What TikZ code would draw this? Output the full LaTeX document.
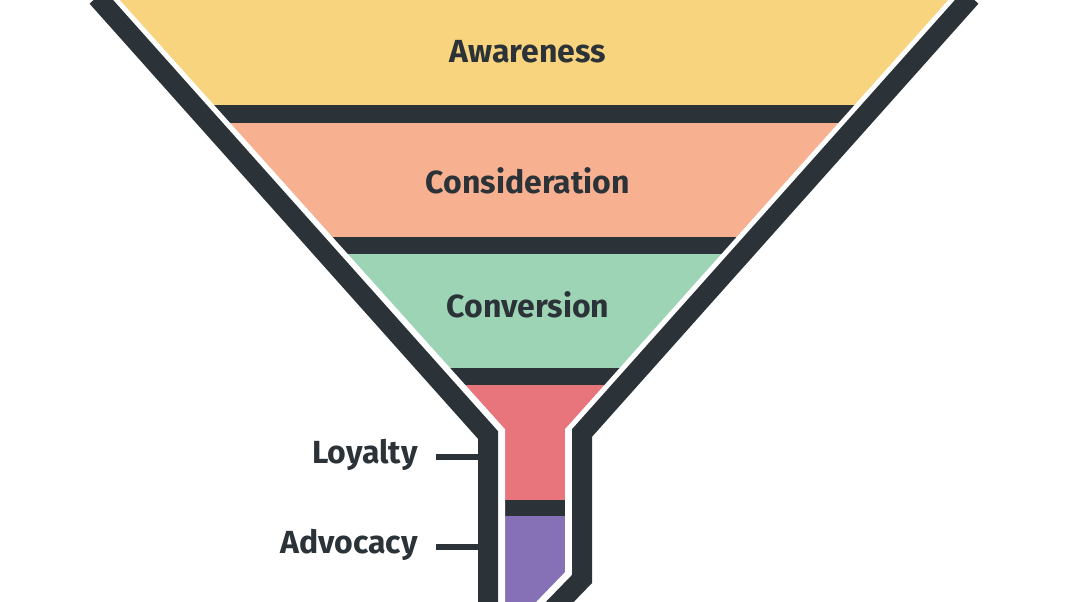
\documentclass[tikz,border=0pt]{standalone}
\usepackage{fontspec}
\setmainfont{Fira Sans}
\usepackage{xcolor}
\usetikzlibrary{positioning}
\definecolor{funnelDark}{HTML}{2B3338}
\definecolor{stageYellow}{HTML}{F9D47E}
\definecolor{stageSalmon}{HTML}{F7B191}
\definecolor{stageGreen}{HTML}{9ED4B6}
\definecolor{stageRed}{HTML}{E8747C}
\definecolor{stagePurple}{HTML}{8670B6}
\begin{document}
\begin{tikzpicture}[x=0.75pt, y=-0.75pt,
		stage/.style={font=\bfseries\fontsize{24}{28}\selectfont, text=funnelDark},
		side/.style={font=\bfseries\fontsize{24}{28}\selectfont, text=funnelDark, anchor=east, inner sep=0pt},
		tick/.style={draw=funnelDark, line width=3.8pt}]
			\useasboundingbox (0,0) rectangle (1068,601);
			% outer wall
			\draw[funnelDark, line width=15pt, line join=miter]
				(97,-3) -- (488,435) -- (488,610);
			\draw[funnelDark, line width=15pt, line join=miter]
				(971,-3) -- (582,433) -- (582,579) -- (550,612);
			% stages
			\begin{scope}
				\clip (117,0) -- (503,430) -- (503,605) -- (536,605) -- (567,573) -- (567,430) -- (951,0) -- cycle;
				\fill[funnelDark] (0,0) rectangle (1068,601);
				\foreach \top/\bot/\col in {0/105/stageYellow, 123/237/stageSalmon, 254/368/stageGreen, 385/500/stageRed, 516/605/stagePurple}
				{
					\fill[\col] (0,\top) rectangle (1068,\bot);
				}
			\end{scope}
			\draw[white, line width=3pt, line join=miter]
				(117,0) -- (503,430) -- (503,605);
			\draw[white, line width=3pt, line join=miter]
				(951,0) -- (567,430) -- (567,573) -- (536,605);
			% labels
			\node[stage] (awareness) at (528,52) {Awareness};
			\node[stage] (consideration) at (528,181) {Consideration};
			\node[stage] (conversion) at (528,305) {Conversion};
			\coordinate (loyaltyEnd) at (478,457);
			\coordinate (advocacyEnd) at (478,547);
			\node[side] (loyalty) at (418,455) {Loyalty};
			\node[side] (advocacy) at (418,545) {Advocacy};
			\draw[tick] ([xshift=13.5pt]loyalty.east |- loyaltyEnd) -- (loyaltyEnd);
			\draw[tick] ([xshift=13.5pt]advocacy.east |- advocacyEnd) -- (advocacyEnd);
		\end{tikzpicture}
\end{document}
